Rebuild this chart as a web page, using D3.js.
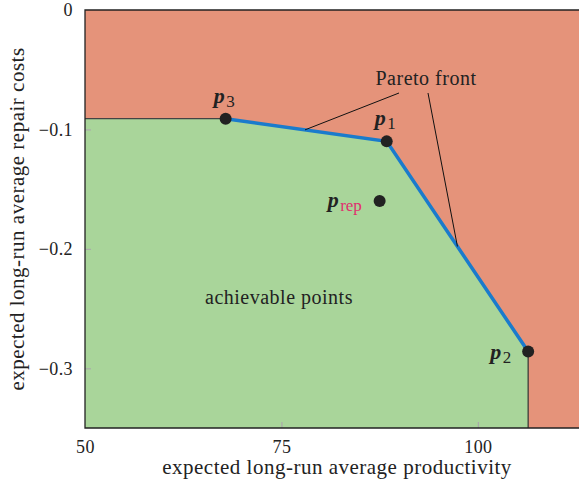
<!DOCTYPE html>
<html>
<head>
<meta charset="utf-8">
<script src="https://cdn.jsdelivr.net/npm/d3@7"></script>
<style>
  body { margin: 0; background: #fff; }
  svg text { font-family: "Liberation Serif", serif; fill: #222; }
</style>
</head>
<body>
<div id="viz"></div>
<script>
// values
const pointNames = ['p1', 'p2', 'p3', 'prep'];
const productivity = [88.4, 106.4, 67.9, 87.5];
const repairCosts = [-0.110, -0.286, -0.091, -0.160];
const xTicks = [50, 75, 100];
const yTicks = [0, -0.1, -0.2, -0.3];
const xDomain = [50, 113];
const yDomain = [-0.35, 0];

const pt = name => {
    const i = pointNames.indexOf(name);
    return [productivity[i], repairCosts[i]];
};

// pareto front goes p3 -> p1 -> p2
const front = ['p3', 'p1', 'p2'].map(pt);

const dimensions = {
    width: 579,
    height: 484,
    margins: { top: 10, right: -1, bottom: 56, left: 85 }
};

const svg = d3.select('#viz').append('svg')
    .attr('width', dimensions.width)
    .attr('height', dimensions.height);

const xScale = d3.scaleLinear()
    .domain(xDomain)
    .range([dimensions.margins.left, dimensions.width - dimensions.margins.right]);

const yScale = d3.scaleLinear()
    .domain(yDomain)
    .range([dimensions.height - dimensions.margins.bottom, dimensions.margins.top]);

const x0 = xDomain[0], x1 = xDomain[1], y0 = yDomain[0], y1 = yDomain[1];

// red = not achievable, whole plot area
svg.append('rect')
    .attr('x', xScale(x0))
    .attr('y', yScale(y1))
    .attr('width', xScale(x1) - xScale(x0))
    .attr('height', yScale(y0) - yScale(y1))
    .attr('fill', '#e5937a');

// green = achievable region under the front
const region = [[x0, front[0][1]], ...front, [front[2][0], y0], [x0, y0]];
const line = d3.line().x(d => xScale(d[0])).y(d => yScale(d[1]));

svg.append('path')
    .attr('d', line(region) + 'Z')
    .attr('fill', '#a9d59a');

// thin borders of the region that are not the front
svg.append('path')
    .attr('d', line([[x0, front[0][1]], front[0]]))
    .attr('stroke', '#444').attr('stroke-width', 1.2).attr('fill', 'none');
svg.append('path')
    .attr('d', line([front[2], [front[2][0], y0]]))
    .attr('stroke', '#333').attr('stroke-width', 1.2).attr('fill', 'none');

// ticks (inside, grey)
const xAxis = d3.axisBottom(xScale).tickValues(xTicks).tickSize(-6).tickPadding(12)
    .tickFormat(d3.format('d'));
const yAxis = d3.axisLeft(yScale).tickValues(yTicks).tickSize(-6).tickPadding(12)
    .tickFormat(d => d === 0 ? '0' : d3.format('.1f')(d));

const gx = svg.append('g')
    .attr('transform', `translate(0,${yScale(y0)})`)
    .call(xAxis);
const gy = svg.append('g')
    .attr('transform', `translate(${xScale(x0)},0)`)
    .call(yAxis);

[gx, gy].forEach(g => {
    g.select('.domain').remove();
    g.selectAll('.tick line').attr('stroke', '#aaa').attr('stroke-width', 1.2);
    g.selectAll('.tick text').style('font-size', '18px').style('letter-spacing', '0.4px').attr('fill', '#222');
});
gy.selectAll('.tick text').attr('dy', '0.32em');
gy.selectAll('.tick').filter(d => d === 0).select('line').remove();
gx.selectAll('.tick').filter(d => d === 50).select('line').remove();

// frame: left, bottom, top
svg.append('path')
    .attr('d', `M${xScale(x1) + 1},${yScale(y1)}H${xScale(x0)}V${yScale(y0)}H${xScale(x1) + 1}`)
    .attr('fill', 'none').attr('stroke', '#222').attr('stroke-width', 1.3);

// pareto front line
svg.append('path')
    .attr('d', line(front))
    .attr('fill', 'none')
    .attr('stroke', '#1a7bcc')
    .attr('stroke-width', 3.5);

// leader lines to the "Pareto front" label, ending on the two segments
const onSeg = (a, b, x) => [x, a[1] + (b[1] - a[1]) * (x - a[0]) / (b[0] - a[0])];
const mid1 = onSeg(front[0], front[1], 78.0);
const mid2 = onSeg(front[1], front[2], 97.4);

svg.append('line')
    .attr('x1', 399).attr('y1', 93)
    .attr('x2', xScale(mid1[0])).attr('y2', yScale(mid1[1]))
    .attr('stroke', '#111').attr('stroke-width', 1);
svg.append('line')
    .attr('x1', 428).attr('y1', 93)
    .attr('x2', xScale(mid2[0])).attr('y2', yScale(mid2[1]))
    .attr('stroke', '#111').attr('stroke-width', 1);

const label = (x, y, s) => svg.append('text')
    .attr('x', x).attr('y', y)
    .attr('text-anchor', 'middle')
    .style('font-size', '20px')
    .style('letter-spacing', '0.5px')
    .text(s);

label(426, 85, 'Pareto front');
label(279, 304, 'achievable points');

// points
svg.selectAll('circle.pt')
    .data(pointNames)
    .join('circle')
    .attr('class', 'pt')
    .attr('cx', d => xScale(pt(d)[0]))
    .attr('cy', d => yScale(pt(d)[1]))
    .attr('r', 6)
    .attr('fill', '#222');

// point labels: offset from the point in pixels
const labelOffsets = { p1: [-12, -16], p2: [-38, 7], p3: [-12, -16], prep: [-52, 6] };
const subs = { p1: '1', p2: '2', p3: '3', prep: 'rep' };

pointNames.forEach(name => {
    const [px, py] = pt(name);
    const off = labelOffsets[name];
    const t = svg.append('text')
        .attr('x', xScale(px) + off[0])
        .attr('y', yScale(py) + off[1])
        .style('font-size', '22px');
    t.append('tspan')
        .style('font-style', 'italic')
        .style('font-weight', 'bold')
        .text('p');
    t.append('tspan')
        .attr('dy', 4)
        .attr('dx', 1.5)
        .style('font-size', '17px')
        .attr('fill', name === 'prep' ? '#e0306e' : '#222')
        .text(subs[name]);
});

// axis titles
svg.append('text')
    .attr('x', 337).attr('y', 474)
    .attr('text-anchor', 'middle')
    .style('font-size', '21px')
    .style('letter-spacing', '0.5px')
    .text('expected long-run average productivity');

svg.append('text')
    .attr('transform', `translate(24,${yScale(-0.175)}) rotate(-90)`)
    .attr('text-anchor', 'middle')
    .style('font-size', '21px')
    .style('letter-spacing', '0.5px')
    .text('expected long-run average repair costs');
</script>
</body>
</html>
